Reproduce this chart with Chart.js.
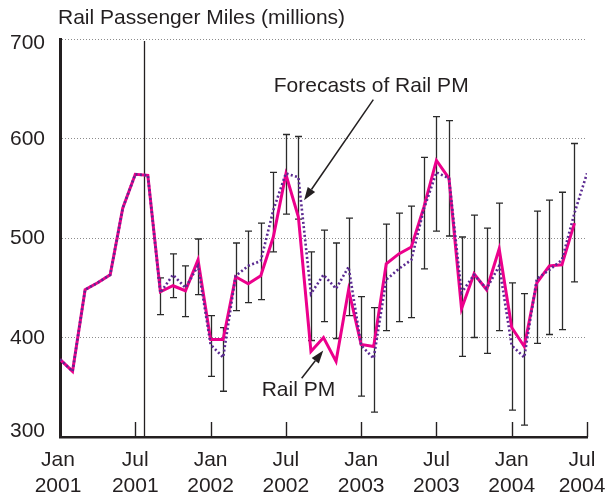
<!DOCTYPE html>
<html>
<head>
<meta charset="utf-8">
<script src="https://cdn.jsdelivr.net/npm/chart.js@4/dist/chart.umd.min.js"></script>
<style>
  html, body { margin: 0; padding: 0; background: #fff; }
  #wrap { width: 608px; height: 495px; }
</style>
</head>
<body>
<div id="wrap"><canvas id="c" width="608" height="495"></canvas></div>
<script>
// Monthly rail passenger miles (millions), Jan 2001 .. Jul 2004
const months = [
  'Jan 2001','Feb 2001','Mar 2001','Apr 2001','May 2001','Jun 2001','Jul 2001','Aug 2001','Sep 2001','Oct 2001','Nov 2001','Dec 2001',
  'Jan 2002','Feb 2002','Mar 2002','Apr 2002','May 2002','Jun 2002','Jul 2002','Aug 2002','Sep 2002','Oct 2002','Nov 2002','Dec 2002',
  'Jan 2003','Feb 2003','Mar 2003','Apr 2003','May 2003','Jun 2003','Jul 2003','Aug 2003','Sep 2003','Oct 2003','Nov 2003','Dec 2003',
  'Jan 2004','Feb 2004','Mar 2004','Apr 2004','May 2004','Jun 2004','Jul 2004'
];

// Observed rail PM, Jan 2001 .. Jun 2004
const railPM = [
  378, 366, 448, 455, 463, 530, 564, 563, 446, 452, 447, 478,
  398, 398, 461, 454, 462, 501, 564, 521, 386, 400, 376, 448,
  393, 391, 474, 484, 491, 531, 578, 560, 429, 464, 448, 489,
  410, 391, 455, 472, 473, 515
];

// Model values: fitted through Aug 2001, forecasts afterwards (to Jul 2004)
const forecastPM = [
  378, 366, 448, 455, 463, 530, 564, 563, 445, 463, 450, 472,
  393, 380, 462, 472, 477, 528, 565, 561, 444, 463, 449, 471,
  392, 379, 458, 469, 478, 529, 566, 560, 445, 463, 449, 472,
  392, 380, 459, 468, 478, 525, 565
];

// Forecast intervals, Sep 2001 .. Jun 2004
const intervalStart = 8;
const intervalLow = [
  423, 440, 421, 443, 361, 346, 427, 435, 438, 486, 524, 519,
  397, 416, 399, 422, 341, 325, 407, 416, 420, 469, 507, 502,
  381, 400, 384, 407, 327, 312, 394, 403, 408, 456
];
const intervalHigh = [
  460, 484, 472, 499, 422, 410, 495, 507, 515, 566, 604, 602,
  486, 508, 495, 520, 441, 430, 514, 525, 532, 581, 622, 618,
  501, 523, 510, 535, 455, 444, 527, 538, 546, 595
];

// Axis ticks every six months
const tickMonths = [0, 6, 12, 18, 24, 30, 36, 42];
const tickLabels = [
  ['Jan', '2001'], ['Jul', '2001'], ['Jan', '2002'], ['Jul', '2002'],
  ['Jan', '2003'], ['Jul', '2003'], ['Jan', '2004'], ['Jul', '2004']
];
const yTicks = [300, 400, 500, 600, 700];

// Start of the forecast period
const forecastOrigin = 6.72;

const INK = '#231f20';
const PINK = '#ec008c';
const PURPLE = '#5b2a91';
const FONT = "'Liberation Sans', Arial, Helvetica, sans-serif";

Chart.defaults.font.family = FONT;
Chart.defaults.color = INK;

function arrow(ctx, x1, y1, x2, y2) {
  const ang = Math.atan2(y2 - y1, x2 - x1);
  const len = 13, half = 4.5;
  const bx = x2 - len * Math.cos(ang), by = y2 - len * Math.sin(ang);
  ctx.beginPath();
  ctx.moveTo(x1, y1);
  ctx.lineTo(bx, by);
  ctx.stroke();
  ctx.beginPath();
  ctx.moveTo(x2, y2);
  ctx.lineTo(bx + half * Math.sin(ang), by - half * Math.cos(ang));
  ctx.lineTo(bx - half * Math.sin(ang), by + half * Math.cos(ang));
  ctx.closePath();
  ctx.fill();
}

const decorations = {
  id: 'decorations',
  beforeDatasetsDraw(chart) {
    const { ctx, chartArea: a, scales: { x, y } } = chart;
    ctx.save();
    // forecast origin marker
    ctx.strokeStyle = INK;
    ctx.lineWidth = 1.3;
    const vx = Math.round(x.getPixelForValue(forecastOrigin)) + 0.5;
    ctx.beginPath();
    ctx.moveTo(vx, y.getPixelForValue(700) + 2);
    ctx.lineTo(vx, a.bottom);
    ctx.stroke();
    // forecast intervals
    ctx.strokeStyle = '#2b2b2b';
    ctx.lineWidth = 1.3;
    for (let i = 0; i < intervalLow.length; i++) {
      const px = Math.round(x.getPixelForValue(intervalStart + i)) + 0.5;
      const lo = y.getPixelForValue(intervalLow[i]);
      const hi = y.getPixelForValue(intervalHigh[i]);
      ctx.beginPath();
      ctx.moveTo(px, lo); ctx.lineTo(px, hi);
      ctx.moveTo(px - 3.5, lo); ctx.lineTo(px + 3.5, lo);
      ctx.moveTo(px - 3.5, hi); ctx.lineTo(px + 3.5, hi);
      ctx.stroke();
    }
    ctx.restore();
  },
  afterDraw(chart) {
    const { ctx, chartArea: a, scales: { x, y } } = chart;
    ctx.save();
    // inward ticks on the time axis
    ctx.strokeStyle = INK;
    ctx.lineWidth = 1.4;
    tickMonths.slice(1).forEach(m => {
      const px = Math.round(x.getPixelForValue(m)) + 0.5;
      ctx.beginPath();
      ctx.moveTo(px, a.bottom);
      ctx.lineTo(px, a.bottom - 15);
      ctx.stroke();
    });

    ctx.fillStyle = INK;
    ctx.font = '21px ' + FONT;

    // time-axis labels, edge labels nudged to stay on the canvas
    ctx.textAlign = 'center';
    ctx.textBaseline = 'alphabetic';
    tickMonths.forEach((m, i) => {
      let px = x.getPixelForValue(m);
      if (i === 0) px -= 2;
      if (i === tickMonths.length - 1) px -= 5;
      ctx.fillText(tickLabels[i][0], px, a.bottom + 29);
      ctx.fillText(tickLabels[i][1], px, a.bottom + 54.5);
    });

    // value-axis labels, end labels kept inside the axis span
    ctx.textAlign = 'right';
    ctx.textBaseline = 'middle';
    yTicks.forEach((v, i) => {
      let py = y.getPixelForValue(v);
      if (i === 0) py -= 6.5;
      if (i === yTicks.length - 1) py += 3.5;
      ctx.fillText(String(v), a.left - 15, py + 0.5);
    });

    // axis title
    ctx.textAlign = 'left';
    ctx.fillText('Rail Passenger Miles (millions)', a.left - 2, 18);

    // callouts
    ctx.textAlign = 'center';
    ctx.fillText('Forecasts of Rail PM', x.getPixelForValue(24.8), y.getPixelForValue(653));
    ctx.fillText('Rail PM', x.getPixelForValue(19.0), y.getPixelForValue(347));
    ctx.lineWidth = 1.5;
    arrow(ctx, x.getPixelForValue(24.97), y.getPixelForValue(639),
               x.getPixelForValue(19.45), y.getPixelForValue(538));
    arrow(ctx, x.getPixelForValue(19.26), y.getPixelForValue(359),
               x.getPixelForValue(20.98), y.getPixelForValue(387));
    ctx.restore();
  }
};

new Chart(document.getElementById('c'), {
  type: 'line',
  data: {
    datasets: [
      {
        label: 'Rail PM',
        data: railPM.map((v, i) => ({ x: i, y: v })),
        borderColor: PINK,
        borderWidth: 3,
        pointRadius: 0,
        tension: 0,
        fill: false,
        order: 2
      },
      {
        label: 'Forecasts of Rail PM',
        data: forecastPM.map((v, i) => ({ x: i, y: v })),
        borderColor: PURPLE,
        borderWidth: 2.6,
        borderDash: [2, 2.4],
        pointRadius: 0,
        tension: 0,
        fill: false,
        order: 1
      }
    ]
  },
  options: {
    responsive: false,
    devicePixelRatio: 1,
    animation: false,
    layout: { padding: { left: 10, top: 39, right: 21, bottom: 0 } },
    plugins: { legend: { display: false }, tooltip: { enabled: false }, title: { display: false } },
    scales: {
      x: {
        type: 'linear',
        min: 0,
        max: months.length - 1,
        afterBuildTicks: s => { s.ticks = tickMonths.map(v => ({ value: v })); },
        afterFit: s => { s.height = 58; s.paddingLeft = 0; s.paddingRight = 0; },
        grid: { display: false, drawTicks: false },
        border: { display: true, width: 2.6, color: INK },
        ticks: { display: false }
      },
      y: {
        min: 300,
        max: 700,
        afterBuildTicks: s => { s.ticks = yTicks.map(v => ({ value: v })); },
        afterFit: s => { s.width = 50; s.paddingTop = 0; s.paddingBottom = 0; },
        grid: { color: '#8c8c8c', lineWidth: 1, drawTicks: false },
        border: { display: true, width: 3, color: INK, dash: [1, 2] },
        ticks: { display: false }
      }
    }
  },
  plugins: [decorations]
});
</script>
</body>
</html>
